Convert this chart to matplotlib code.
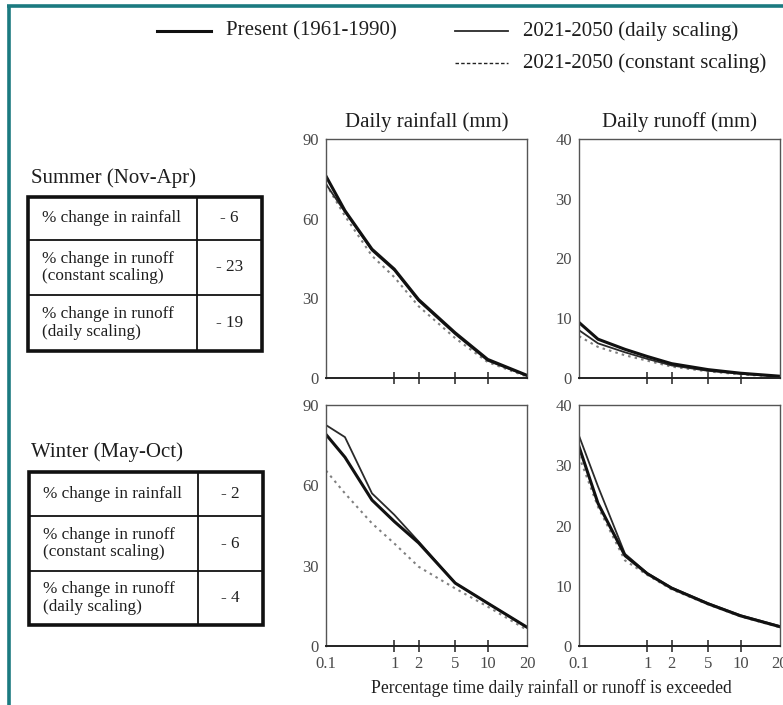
import numpy as np
import matplotlib
matplotlib.use("Agg")
import matplotlib.pyplot as plt
from matplotlib.lines import Line2D
from matplotlib.patches import Rectangle
from statistics import NormalDist

# ---------------- data ----------------
pct = [0.1, 0.2, 0.5, 1, 2, 5, 10, 20]   # % time exceeded

sum_rain_present = [76, 63, 48.5, 41, 29.5, 17, 7, 1]
sum_rain_daily = [73, 62.5, 48, 40.5, 29, 16.5, 6.5, 0.8]
sum_rain_const = [73, 61, 46, 38, 27, 15, 6, 0.5]

sum_runoff_present = [9.3, 6.5, 4.8, 3.6, 2.4, 1.4, 0.8, 0.3]
sum_runoff_daily = [8.0, 5.8, 4.3, 3.2, 2.1, 1.2, 0.7, 0.25]
sum_runoff_const = [7.0, 5.2, 3.8, 2.9, 1.9, 1.1, 0.6, 0.2]

win_rain_present = [79, 70.5, 54.5, 46.5, 38.5, 23.5, 16, 7]
win_rain_daily = [82.5, 78, 57, 49, 39, 23.5, 16, 7]
win_rain_const = [65.5, 57, 45.8, 38.3, 29.6, 21.5, 14.7, 6]

win_runoff_present = [33.1, 23.7, 15.0, 12.0, 9.6, 7.0, 5.0, 3.2]
win_runoff_daily = [34.9, 26.5, 15.3, 12.1, 9.7, 7.1, 5.1, 3.3]
win_runoff_const = [31.5, 23.1, 14.2, 11.8, 9.4, 6.9, 4.9, 3.1]

xticks = [0.1, 1, 2, 5, 10, 20]
xticklabels = ["0.1", "1", "2", "5", "10", "20"]
rain_yticks = [0, 30, 60, 90]
runoff_yticks = [0, 10, 20, 30, 40]

legend_labels = ["Present (1961-1990)", "2021-2050 (daily scaling)",
                 "2021-2050 (constant scaling)"]
col_titles = ["Daily rainfall (mm)", "Daily runoff (mm)"]
season_titles = ["Summer (Nov-Apr)", "Winter (May-Oct)"]
table_rows = ["% change in rainfall", "% change in runoff\n(constant scaling)",
              "% change in runoff\n(daily scaling)"]
summer_changes = ["- 6", "- 23", "- 19"]
winter_changes = ["- 2", "- 6", "- 4"]
xlabel = "Percentage time daily rainfall or runoff is exceeded"

# ---------------- style ----------------
plt.rcParams['font.family'] = ['Liberation Serif', 'DejaVu Serif']
W, H = 783, 705
fig = plt.figure(figsize=(W / 100, H / 100), dpi=100)
fig.patch.set_facecolor('white')

ND = NormalDist()
_ppf = np.vectorize(ND.inv_cdf, otypes=[float])
_cdf = np.vectorize(ND.cdf, otypes=[float])


def fwd(p):
    p = np.asarray(p, dtype=float)
    q = np.clip(p / 100.0, 1e-9, 1 - 1e-9)
    return _ppf(q)


def inv(z):
    z = np.asarray(z, dtype=float)
    return _cdf(z) * 100.0


def fx(px):
    return px / W


def fy(py):
    return 1 - py / H


TXT = '#1e1e1e'
present_style = dict(color='#111111', lw=2.2, solid_joinstyle='round')
daily_style = dict(color='#2a2a2a', lw=1.3)
const_style = dict(color='#808080', lw=1.5, linestyle=(0, (1.2, 2.0)))

col_left = [326, 579]
col_w = 201
row_top = [139, 405]
row_bot = [378, 646]

panels = [
    [(sum_rain_present, sum_rain_daily, sum_rain_const, 90, rain_yticks),
     (sum_runoff_present, sum_runoff_daily, sum_runoff_const, 40, runoff_yticks)],
    [(win_rain_present, win_rain_daily, win_rain_const, 90, rain_yticks),
     (win_runoff_present, win_runoff_daily, win_runoff_const, 40, runoff_yticks)],
]

for r in range(2):
    for c in range(2):
        pres, daily, const, ymax, yt = panels[r][c]
        l = fx(col_left[c])
        b = fy(row_bot[r])
        ax = fig.add_axes([l, b, col_w / W, (row_bot[r] - row_top[r]) / H])
        ax.set_xscale('function', functions=(fwd, inv))
        ax.plot(pct, const, **const_style)
        ax.plot(pct, daily, **daily_style)
        ax.plot(pct, pres, **present_style)
        ax.set_xlim(0.1, 20)
        ax.set_ylim(0, ymax)
        ax.xaxis.set_minor_locator(matplotlib.ticker.NullLocator())
        ax.tick_params(axis='x', direction='inout', length=9, width=1.1,
                       color='#222222')
        if r == 1:
            ax.set_xticks(xticks)
            ax.set_xticklabels(xticklabels)
            ax.tick_params(axis='x', labelsize=12, labelcolor='#4a4a4a',
                           pad=2.5)
            for t in ax.xaxis.get_major_ticks():
                if t.get_loc() in (0.1, 20):
                    t.tick1line.set_visible(False)
        else:
            ax.set_xticks([1, 2, 5, 10])
            ax.set_xticklabels([])
        ax.set_yticks(yt)
        ax.tick_params(axis='y', length=0, labelsize=12,
                       labelcolor='#4a4a4a', pad=5)
        for s in ax.spines.values():
            s.set_color('#555555')
            s.set_linewidth(1.0)
        ax.spines['bottom'].set_color('#222222')
        ax.spines['bottom'].set_linewidth(1.4)
        if r == 0:
            ax.set_title(col_titles[c], fontsize=15, pad=9, color=TXT)

fig.text(fx(551), fy(688), xlabel, fontsize=12.7, ha='center', va='center',
         color=TXT)

# ---------------- legend ----------------
fig.add_artist(Line2D([fx(157), fx(211)], [fy(31), fy(31)], **present_style))
fig.text(fx(226), fy(31), legend_labels[0], fontsize=15, va='center',
         color=TXT)
fig.add_artist(Line2D([fx(455), fx(508)], [fy(31), fy(31)], **daily_style))
fig.text(fx(523), fy(31), legend_labels[1], fontsize=15, va='center',
         color=TXT)
fig.add_artist(Line2D([fx(455), fx(508)], [fy(63), fy(63)], color='#222222',
                      lw=1.0, linestyle=(0, (2.5, 1.6))))
fig.text(fx(523), fy(63), legend_labels[2], fontsize=15, va='center',
         color=TXT)


# ---------------- tables ----------------
def table(title, title_y, top, bot, rows_y, left, right, mid, values):
    fig.text(fx(31), fy(title_y), title, fontsize=15, va='center',
             color=TXT)
    fig.add_artist(Rectangle((fx(left), fy(bot)), fx(right - left),
                             (bot - top) / H, fill=False, lw=2.6,
                             edgecolor='#111111'))
    fig.add_artist(Line2D([fx(mid), fx(mid)], [fy(top), fy(bot)],
                          color='#111111', lw=1.3))
    edges = [top] + rows_y + [bot]
    for ry in rows_y:
        fig.add_artist(Line2D([fx(left), fx(right)], [fy(ry), fy(ry)],
                              color='#111111', lw=1.3))
    for i in range(3):
        cy = (edges[i] + edges[i + 1]) / 2
        fig.text(fx(left + 14), fy(cy), table_rows[i], fontsize=12.3,
                 va='center', ha='left', color=TXT, linespacing=1.15)
        fig.text(fx((mid + right) / 2), fy(cy), values[i], fontsize=12.3,
                 va='center', ha='center', color=TXT)


table(season_titles[0], 178, 197, 351, [240, 295], 28, 262, 197,
      summer_changes)
table(season_titles[1], 452, 472, 625, [516, 571], 29, 263, 198,
      winter_changes)

# ---------------- border ----------------
teal = '#1b7a80'
fig.add_artist(Line2D([fx(8.5), fx(8.5)], [fy(5), 0], color=teal, lw=2.6,
                      solid_capstyle='butt'))
fig.add_artist(Line2D([fx(7.2), 1], [fy(6), fy(6)], color=teal, lw=2.6,
                      solid_capstyle='butt'))

fig.savefig('out.png', dpi=100, facecolor='white')
